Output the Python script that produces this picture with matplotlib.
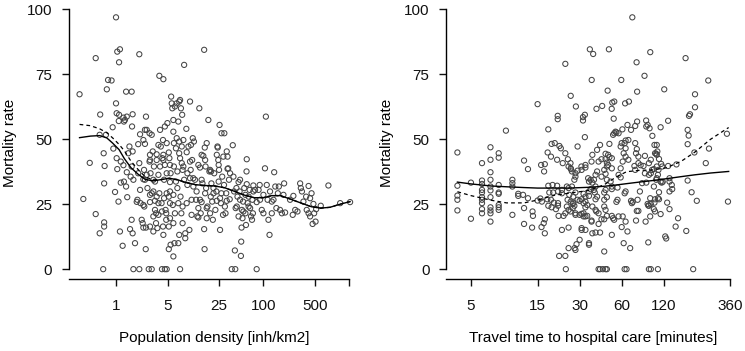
import matplotlib
matplotlib.use("Agg")
import matplotlib.pyplot as plt
import numpy as np

plt.rcParams['font.family'] = ['Liberation Sans', 'DejaVu Sans']

# ---------------- Left panel data: population density vs mortality ----------------
density = [
0.32,0.36,0.44,0.53,0.53,0.6,0.61,0.6,0.67,0.68,0.69,0.69,0.69,0.7,0.75,0.78,0.87,0.9,0.92,0.97,
1.0,1.0,1.02,1.04,1.04,1.08,1.09,1.1,1.13,1.1,1.16,1.23,1.26,1.28,1.32,1.37,1.4,1.4,1.42,1.47,
1.52,1.58,1.63,1.65,1.68,1.72,1.63,1.68,1.81,1.68,1.72,1.91,1.95,2.0,2.07,2.07,2.07,2.12,2.12,2.15,
2.23,2.3,2.35,2.35,2.4,2.42,2.47,2.47,2.53,2.55,2.61,2.67,2.78,2.85,2.89,2.94,3.05,3.05,3.05,3.15,
3.21,3.21,3.27,3.21,3.38,3.38,3.49,3.49,3.56,3.56,3.64,3.76,3.76,3.87,3.87,3.96,3.96,4.05,4.15,4.2,
4.25,4.34,4.34,4.39,4.39,4.39,4.49,4.49,4.6,4.6,4.7,4.8,4.8,4.87,4.87,4.87,4.98,5.2,5.2,5.2,
5.3,5.4,5.4,5.5,5.5,5.6,5.7,5.8,5.9,6.0,6.0,6.0,6.1,6.2,6.3,6.3,6.5,6.66,6.66,6.8,
7.0,7.0,7.2,7.2,7.4,7.4,7.5,7.7,7.8,7.9,8.0,8.2,8.4,8.4,8.7,8.7,9.0,9.1,9.3,9.6,
9.9,10.1,10.3,10.6,10.8,11.0,11.2,11.4,11.8,12.2,12.4,12.7,13.1,13.5,13.8,14.1,14.5,14.9,15.3,15.7,
15.7,15.9,16.2,16.4,16.7,17.0,17.0,17.4,17.9,18.5,18.9,18.9,19.3,19.7,20.2,20.6,21,21.5,22.3,23,
23.3,23.8,24.4,24.7,25,25.4,25.8,25.8,26.5,27,27.6,28.3,28.6,29.2,30,30.6,31.3,31.8,32.6,33.3,
34.1,34.9,35.3,37.2,38.4,39.2,40,41,41.5,42,43,43.5,44.5,46,47.5,48.2,49.5,50,50.5,52,
53,53.5,55,57,58,59,59.4,61,63,65,66,68,70,71,72,73,81,86,89,90,
95,100,100,105,108,111,114,117,121,123,130,137,140,145,150,157,162,168,178,187,
191,197,230,250,255,270,290,315,322,333,349,380,387,410,410,430,430,450,465,477,
488,510,520,600,762,1100,1500,
7.2,7.6,1.26,1.28,2.47,0.73,7.2,2.35,6.1,6.5,7.8,2.0,2.89,4.39,7.4,1.02,1.16,2.85,4.6,5.4,
3.56,8.2,1.63,2.61,6.8,9.3,1.37,5.4,2.89,3.21,4.87,6.0,2.35,2.89,3.38,3.76,7.0,4.2,8.0,3.76,
5.4,2.89,5.2,6.0,8.0,1.13,1.55,2.55,
29.5,10.4,16,24,9.1,10.1,16.2,24.7,13.8,19.5,32.6,10.1,11.2,14.5,46,59.4,73,21,26.9,57,
77,10.6,14.5,23.3,31.8,48.2,81,130,13.1,17,51,63,13.1]
mortality_density = [
67.3,27,40.9,81.2,21.2,13.8,59.5,51.7,0,44.6,33,18,16.4,39.7,69.2,72.8,72.6,54.6,46.4,29.7,
96.9,63.8,60,83.7,38.5,26,57,59.4,84.6,79.6,33.3,9,40,33.7,57.4,68.3,58.7,37.3,27.7,44.6,
47.2,35.6,68.3,54.9,59.6,34.4,19,13.8,10,45.3,0,25.9,26.7,36.9,82.7,40.8,0,51.9,30.5,25.4,
19,17.7,16,34.6,38.2,24.1,34.4,48.2,7.7,58.7,53.6,31.2,0,52.3,42,36.9,0,51.7,29.2,45.3,
14.5,20.3,39.5,34.4,33.7,22.8,17.7,21.5,44.2,27.9,15.8,47.8,36.3,29.2,74.4,53.6,39.5,47.2,25.4,0,
42.7,49.7,16.4,73.1,13.2,42,34.4,27.3,0,54.9,22.8,21.5,19,0,36.9,48.5,56.2,44.9,27.9,7.7,
42.7,25.4,29.9,36.9,9.4,66.4,63.8,61.9,24.7,52.9,57.4,4.9,39.5,10,62.6,21.5,33.7,63.8,50.4,31.2,
56.8,10,44.6,13.2,0,65.1,27.9,21.5,40.8,59.4,38.2,49.7,78.6,34.4,13.8,11.9,54,25.4,32.4,47.2,
15.1,64.5,38.2,20.9,42,50.4,31.8,49.1,34.4,26.7,29.9,20.3,40.1,61.9,26.7,21.5,44,33,43.6,84.4,
15.4,7.7,29.2,39.5,31.2,48.5,19.6,24.1,57.4,37.6,38.2,21.5,27.9,33,26,19,31.2,36.9,22.8,29.9,
44,47.2,42,33.7,38.2,55.5,15.1,27.3,25.4,52.3,35.6,20.9,43.3,32.4,24.1,21.5,29.2,45.3,43.3,38.8,
34.4,26.9,36.9,0,47.7,35.6,29.9,7.2,0,23.5,31.2,24.1,27.9,20.3,29.9,34.4,5.1,10.6,16,19.6,
26,22.2,31.2,21.5,17,37.6,42.3,25.4,27.9,30.5,23.5,20.3,19,26.7,21.5,29.9,0,30.5,32.4,26.7,
22.8,21.5,28.6,38.8,58.7,32.4,26.7,19,13.2,29.9,21.5,26.7,37.3,31.8,23.5,29.2,31.8,22.8,21.5,28.6,
33,21.8,26.7,20.9,28.2,22.8,22.2,33,31.2,29.9,26,27.9,22.8,32,21.5,27.3,20.3,29.2,17.4,25.1,
21.5,18.3,23.1,24.4,32.2,25.4,25.8,
64.5,61.9,58.3,56.8,53.6,51.7,49.1,49.7,48.5,46.5,47.2,48.1,44,44,42.7,42.7,41.4,41.4,40.1,40.1,
42,39.5,39.5,36.3,37.6,36.9,31.8,33.5,28.6,29.9,29.2,28.6,24.7,25.8,26.3,25.4,25.4,22.2,24.1,20.9,
19.6,16.4,16.4,17.7,17.7,14.5,15.4,16,
52.3,47.8,46.8,46.8,45,41.4,42,40.1,39.1,37.6,38.6,35,35,34.4,33.5,32.7,32.2,29.2,29.2,28.6,
30.5,26.7,25.8,26.3,26.3,26.7,25.8,26,23.5,23.5,22.8,24.1,19.9]

# fitted curves (left)
fit_density = [0.32,0.45,0.6,0.75,0.9,1.1,1.3,1.6,2.0,2.5,3.2,4.2,5.3,7,9,12,16,22,30,40,55,75,100,130,170,230,320,450,600,800,1100,1500]
fit_solid_density = [50.6,51.2,51.4,50.5,48.5,46,42.5,39,36.5,34.5,34.0,34.5,35.0,34.3,33.3,32.5,32.2,32.0,31.3,30.0,28.5,27.5,27.5,28.3,28.3,27,25.5,24,23.5,23.8,25,26]
fit_dashed_density = [55.7,55.2,54.0,52.5,50.5,48.0,45.5,41.5,38.3,35.5,34.3,34.5,35.0,34.3,33.3,32.5,32.2,32.0,31.3,30.0,28.5,27.5,27.5,28.3,28.3,27,25.5,24,23.5,23.8,25,26]

# ---------------- Right panel data: travel time vs mortality ----------------
travel = [
4.0,4.0,4.0,4.0,4.0,5.0,5.0,
6.0,6.0,6.0,6.0,6.0,6.0,6.0,6.0,6.0,6.0,
6.9,6.9,6.9,6.9,6.9,6.9,6.9,6.9,6.9,6.9,6.9,
7.9,7.9,7.9,7.9,7.9,7.9,7.9,7.9,
8.9,9.9,9.9,9.9,9.9,10.9,10.9,11.8,12,12.8,12.8,12,12,13.8,13.9,15,15.7,16.1,15,
15.9,16.9,16.7,17.9,17.7,18.7,18.9,19.9,20.7,17.9,19.2,20.7,18.2,19.4,21,17.6,18.7,19.6,21,17.9,
18.9,20.3,21,16.9,16.6,16,16.9,21.4,23.7,20.9,20.9,23.7,23.9,25,25.9,27.6,28.5,28.2,29,30.9,
25.9,32.7,31.7,31.7,32.7,35.5,37.5,36.6,39.6,43.5,48.6,47.6,50.9,53.1,51.4,52.6,59.6,63.5,67.6,71.5,
76.7,77.4,87.4,96.1,121,172,250,201,201,185,182,129,114,178,181,178,340,253,199,108,
106,111,115,117,129,148,240,107,114,116,118,132,132,137,138,132,178,111,109,111,
190,207,346,127,114,132,152,146,174,123,125,109,195,97,94,
77.4,75,66,89.8,92,95,90,60.7,70,99.5,53.1,54.2,52.1,107,103,88,97,94,104,107,
107,110,109,106,99,102,97,94,88,86,82,79,84,90,102,104,103,96,97,94,
92,93,89,102,104,96,93,79,77,81,76,78,75,74,79,76,77,75,71,70,
72,69,65,63,66,62,64,61,64,63,60,57,57,59,56,55,56,59,61,62,
64,59,60,64,67,67,64,63,55,57,49,48,49,51,47,48,51,46,46,47,
45,46,43,47,50,51,51,45,46,45,47,45,46,47,51,52,53,51,45,41,
42,44,46,47,42,39,37,41,43,45,41,39.5,39,39,40,38,38.5,39,37,36.5,
36.5,35,35,33,31,31,30,28,32,33,34,32,31,30,28,28,33,34,32,33,
31,33,32,29,30,35,35,36,35,36,37,34.5,38,39,40,41,43,42,40,37,
36.5,33,33,31,28,29,28,27.5,26.4,26,25,25.8,24.7,23.7,22,21.5,22.7,22.4,22.4,24.3,
25,26.4,25.3,27,28,24.6,25.9,26.8,24.3,25,25.8,26.8,23.7,23,21.2,22.4,25,27,27.5,13.7]
mortality_travel = [
44.9,32.1,28.3,26.7,22.6,33.3,19.4,
40.8,34.1,32.8,30.5,29.5,27.7,26.7,25.4,23.1,21.5,
46.9,42.1,37.3,34.4,31.8,30.3,27.7,23.8,22.6,21.5,18.3,
44.6,42.9,32.4,29.5,29,24.7,23.8,22.8,
53.3,34.4,33.1,31.8,20.9,29.0,28.2,28.6,41.8,38.5,27.3,23.5,17.4,22.2,20.5,26.4,27.2,26.0,63.5,
40.1,40.4,37.6,53.8,44.9,43.3,48.2,48.5,42.1,32.1,32.4,32.1,29.5,29.5,29.9,26.9,26.7,25.6,25.4,24.4,
23.8,23.1,24.4,19.2,17.7,16.2,13.8,5.1,5.1,59,57.7,79.0,0,8.1,66.7,8.1,9.6,62.6,47.2,39.5,
38.8,59.4,58.5,57.2,50.8,84.6,82.8,72.8,61.7,62.8,84.6,68.7,61.7,64.5,64.1,57.9,72.8,63.8,64.5,96.9,
79.6,68.3,74.4,83.5,69.2,81.2,72.6,67.3,62.3,59.6,59.0,57.1,54.6,53.6,51.4,48.1,52.1,46.4,44.9,45.3,
44.4,42.4,40.5,39.5,39.7,40.3,40.8,35,33.7,33.3,33.6,35,33.7,32.4,30.8,29.9,34.1,29.6,27.3,26.9,
29.6,26.3,26.0,25.6,21.2,23.1,19.6,16.4,14.7,12.6,11.8,0,0,0,0,
56.8,55.1,55.5,57.2,55.5,54.2,54.9,53.8,53.6,51.3,52.3,52.9,51.7,47.8,47.8,43.6,42.1,40.8,44.6,44,
39.5,38.2,36.3,34.4,38.2,38.5,36.9,36.3,36.9,39.7,40,40.8,33.1,33.3,31.8,26.9,25.6,27.3,25.1,24.4,
25.1,24.5,18.3,23.1,22.2,20.3,10.3,22.4,22.4,29.9,18.7,26.7,38.2,39.7,43.3,44.6,46.2,48.5,25.4,26.3,
25.9,8.1,0,0,14.5,10,18.3,20.3,29.9,29.2,16.2,20.3,36.3,35.3,26.7,25.9,31.4,38.8,41.4,44.6,
46.5,47.2,48.5,43.3,42.1,49.7,49.5,48.5,52.6,52.3,48.2,44,43.1,42.7,39.5,40.1,38.8,44.4,42.3,41,
38.2,36.7,35.6,34.4,33.7,31.8,30.8,29.5,30.5,26.7,27.7,24.1,22.8,20.5,20.5,19.6,19,13.2,6.8,0,
0,0,0,0,14.1,14.1,13.8,17.4,19.2,19.2,21.5,22.2,22.8,26.9,27.9,30.5,29.5,31.8,24.1,18.7,
18.3,9.4,10,15.1,15.1,15.8,11.3,7.4,20.3,20.3,20.5,21.5,21.3,20.9,20.9,21.5,23.8,24.7,25.4,26,
26.9,27.9,29,26.7,26.3,28.2,29.9,30.8,33.7,34.4,33.3,35,34.4,36.3,37.6,41.4,42.3,47.8,45.9,44,
41.4,40.1,39.1,38.2,36.9,37.9,35.6,34.4,37.6,38.5,39.5,40.8,42.3,44.6,46.5,47.4,40.8,30.5,29.2,31.8,
31.2,31.8,28.6,27.9,29.5,26.7,26,25.1,24.1,22.8,22.2,23.5,21.5,20.5,20.5,15.1,16,25.6,24.4,16]

fit_travel = [4,5,7,9,12,15,20,25,35,45,55,65,80,100,125,160,200,260,350]
fit_solid_travel = [33.5,32.8,32.0,31.7,31.4,31.2,31.2,31.2,31.5,31.9,32.4,32.9,33.5,34.1,34.8,35.6,36.3,37.0,37.6]
fit_dashed_travel = [29.8,28.3,26.5,25.5,25.5,26.6,28.5,29.2,30.3,32.5,35.5,37.5,38.0,38.2,39.0,41.5,45.0,50.0,54.5]

# ---------------- Figure ----------------
W, H = 745, 351
fig = plt.figure(figsize=(W / 100, H / 100), dpi=100)

FS = 11
pt_kw = dict(s=14, facecolors='none', edgecolors='#454545', linewidths=0.75)
dash = (0, (3.0, 2.5))

def style(ax):
    for s in ['top', 'right']:
        ax.spines[s].set_visible(False)
    ax.spines['left'].set_bounds(0, 100)
    ax.spines['left'].set_linewidth(1.0)
    ax.spines['bottom'].set_linewidth(1.0)
    ax.set_ylim(-3.9, 100.8)
    ax.set_yticks([0, 25, 50, 75, 100])
    ax.set_yticklabels(['0', '25', '50', '75', '100'])
    ax.tick_params(direction='out', length=5, width=1.0, labelsize=FS, colors='#111111')
    ax.tick_params(axis='y', pad=7)
    ax.tick_params(axis='x', pad=9)
    ax.minorticks_off()
    ax.set_ylabel('Mortality rate', fontsize=FS, labelpad=7)

# Left panel
top = 1 - 7.2 / H
bottom = 1 - 279.3 / H
ax1 = fig.add_axes([68.7 / W, bottom, (360.7 - 68.7) / W, top - bottom])
ax1.scatter(density, mortality_density, **pt_kw)
ax1.plot(fit_density, fit_dashed_density, color='black', lw=0.9, linestyle=dash)
ax1.plot(fit_density, fit_solid_density, color='black', lw=1.0)
ax1.set_xscale('log')
ax1.set_xlim(0.228, 2090)
ax1.spines['bottom'].set_bounds(0.232, 1455)
style(ax1)
ax1.set_xticks([1, 5, 25, 100, 500, 1455])
ax1.set_xticklabels(['1', '5', '25', '100', '500', ''])
ax1.minorticks_off()
ax1.set_xlabel('Population density [inh/km2]', fontsize=FS, labelpad=13)

# Right panel
ax2 = fig.add_axes([446.1 / W, bottom, (740.3 - 446.1) / W, top - bottom])
ax2.scatter(travel, mortality_travel, **pt_kw)
ax2.plot(fit_travel, fit_dashed_travel, color='black', lw=0.9, linestyle=dash)
ax2.plot(fit_travel, fit_solid_travel, color='black', lw=1.0)
ax2.set_xscale('log')
ax2.set_xlim(3.32, 424)
ax2.spines['bottom'].set_bounds(3.33, 360)
style(ax2)
ax2.set_xticks([5, 15, 30, 60, 120, 360])
ax2.set_xticklabels(['5', '15', '30', '60', '120', '360'])
ax2.minorticks_off()
ax2.set_xlabel('Travel time to hospital care [minutes]', fontsize=FS, labelpad=13)

fig.savefig('out.png', dpi=100)
